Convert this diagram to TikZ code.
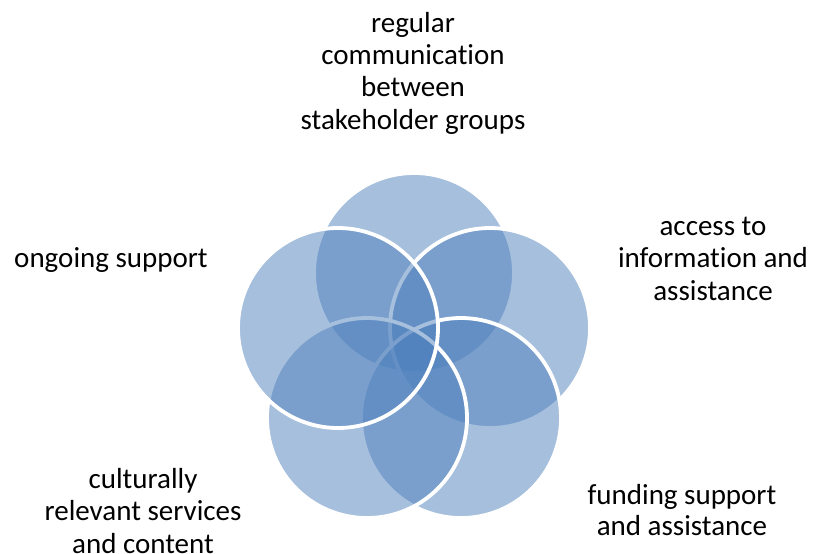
\documentclass[tikz,border=0pt]{standalone}
\usepackage{fontspec}
\setmainfont{Carlito}[Ligatures={NoCommon}]
\definecolor{accentblue}{HTML}{4F81BD}
\tikzset{
  venn/.style={fill=accentblue, fill opacity=0.5, draw=white, draw opacity=1, line width=3.8pt},
  lbl/.style={align=center, anchor=base, inner sep=0pt, text=black, font=\fontsize{29}{32.2}\selectfont}
}
\begin{document}
\begin{tikzpicture}[x=1pt,y=-1pt]
\useasboundingbox (0,0) rectangle (814,554);
\fill[white] (0,0) rectangle (814,554);
% circles in drawing order
\coordinate (ctop) at (414,273);
\coordinate (cright) at (490,328);
\coordinate (cbr) at (461,418);
\coordinate (cbl) at (367,418);
\coordinate (cleft) at (338,328);
\path[venn] (ctop) circle[radius=100pt];
\path[venn] (cright) circle[radius=100pt];
\path[venn] (cbr) circle[radius=100pt];
\path[venn] (cbl) circle[radius=100pt];
\path[venn] (cleft) circle[radius=100pt];
% labels (anchor = baseline of last line)
\node[lbl] (ttop) at (413,129) {regular\\communication\\between\\stakeholder groups};
\node[lbl] (tright) at (713,300) {access to\\information and\\assistance};
\node[lbl] (tleft) at (111,267) {ongoing support};
\node[lbl] (tbl) at (143,553) {culturally\\relevant services\\and content};
\node[lbl, font=\fontsize{29}{30.5}\selectfont] (tbr) at (682,535) {funding support\\and assistance};
\end{tikzpicture}
\end{document}
